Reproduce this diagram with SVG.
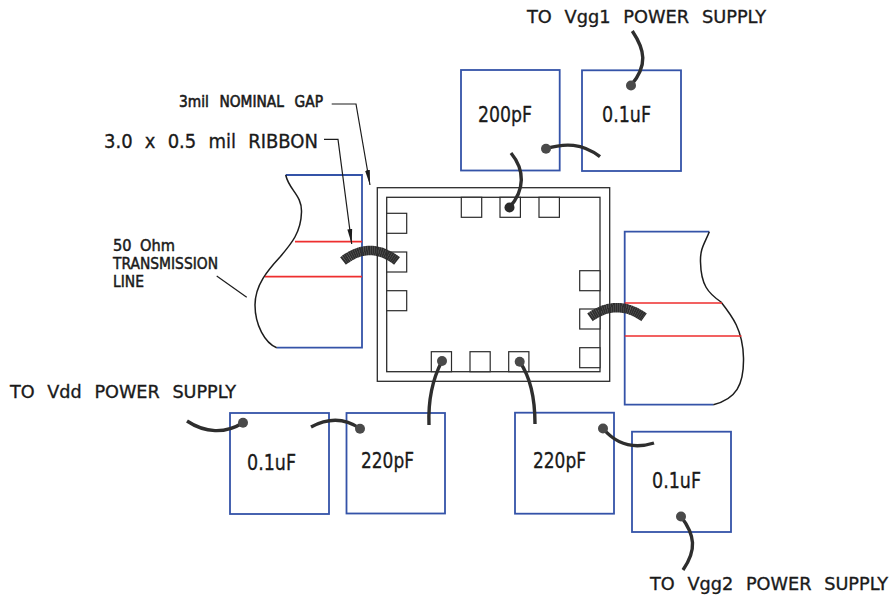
<svg xmlns="http://www.w3.org/2000/svg" width="889" height="596" viewBox="0 0 889 596">
<style>
.cap{fill:#fff;stroke:#3453a8;stroke-width:1.8}
.blue{fill:none;stroke:#3453a8;stroke-width:1.8}
.edge{fill:none;stroke:#1c1c1c;stroke-width:1.5}
.red{fill:none;stroke:#ee2e2e;stroke-width:1.7}
.pkg{fill:none;stroke:#2b2b2b;stroke-width:1.3}
.pad{fill:#fff;stroke:#2b2b2b;stroke-width:1.2}
.wire{fill:none;stroke:#2e2e2e;stroke-width:3.4}
.ribbon{fill:none;stroke:#2e2e2e;stroke-width:9.5;stroke-dasharray:2 .12}
.dot{fill:#4a4a4a}
.lead{fill:none;stroke:#1c1c1c;stroke-width:1.2}
text{font-family:"DejaVu Sans","Liberation Sans",sans-serif;fill:#1a1a1a;stroke:#1a1a1a;stroke-width:.35}
</style>
<defs>
<marker id="tip" markerUnits="userSpaceOnUse" markerWidth="16" markerHeight="8" refX="15" refY="4" orient="auto"><path d="M0 1.6L15 4L0 6.4Z" fill="#1c1c1c"/></marker>
</defs>
<rect width="889" height="596" fill="#fff"/>
<g id="line-left">
<path class="blue" d="M285.7 175H362V347.7H276.7"/>
<path class="edge" d="M285.7 175C289 190 302 195 301.5 212C301 232 292 243 280 257C268 270 255 285 255 305C255 325 265 343 276.7 347.7"/>
<path class="red" d="M295 241.7H362M265 276.7H362"/>
</g>
<g id="line-right">
<path class="blue" d="M709.3 231.7H624.7V404.7H713.3"/>
<path class="edge" d="M709.3 231.7C705 243 700 248 700.5 262C701 285 708 293 721 302C732 316 743 330 743.5 358C744 385 736 399 713.3 404.7"/>
<path class="red" d="M624.7 303H722M624.7 336H741.5"/>
</g>
<g id="package">
<rect class="pkg" x="377.3" y="187.7" width="232.4" height="193.6"/>
<rect class="pkg" x="386.7" y="197.3" width="213.3" height="174.4"/>
<g id="pads">
<rect class="pad" x="386.7" y="213.3" width="20" height="20"/>
<rect class="pad" x="386.7" y="252" width="20" height="20"/>
<rect class="pad" x="386.7" y="290.7" width="20" height="20"/>
<rect class="pad" x="461.3" y="197.3" width="20.4" height="20"/>
<rect class="pad" x="500" y="197.3" width="20.4" height="20"/>
<rect class="pad" x="539" y="197.3" width="20.4" height="20"/>
<rect class="pad" x="579.7" y="270.7" width="20.3" height="20"/>
<rect class="pad" x="579.7" y="309" width="20.3" height="20"/>
<rect class="pad" x="579.7" y="347.7" width="20.3" height="20"/>
<rect class="pad" x="431.3" y="351.7" width="20.2" height="20"/>
<rect class="pad" x="470" y="351.7" width="20.2" height="20"/>
<rect class="pad" x="508.7" y="351.7" width="20.2" height="20"/>
</g>
</g>
<g id="cap-200pF"><rect class="cap" x="461" y="70" width="98.7" height="100.5"/><text x="478" y="122" font-size="22" textLength="54" lengthAdjust="spacingAndGlyphs">200pF</text></g>
<g id="cap-vgg1"><rect class="cap" x="582" y="70.3" width="99" height="100.7"/><text x="602" y="122" font-size="22" textLength="49" lengthAdjust="spacingAndGlyphs">0.1uF</text></g>
<g id="cap-vdd"><rect class="cap" x="230" y="413" width="99" height="101"/><text x="247" y="469.5" font-size="22" textLength="49" lengthAdjust="spacingAndGlyphs">0.1uF</text></g>
<g id="cap-220pF-left"><rect class="cap" x="346.5" y="413" width="98.5" height="100.5"/><text x="361" y="468" font-size="22" textLength="53" lengthAdjust="spacingAndGlyphs">220pF</text></g>
<g id="cap-220pF-right"><rect class="cap" x="515" y="412.7" width="99" height="101"/><text x="533" y="468" font-size="22" textLength="53" lengthAdjust="spacingAndGlyphs">220pF</text></g>
<g id="cap-vgg2"><rect class="cap" x="632" y="431.7" width="99" height="100.3"/><text x="652" y="488" font-size="22" textLength="49" lengthAdjust="spacingAndGlyphs">0.1uF</text></g>
<g id="labels">
<text x="527" y="23" font-size="17.5" textLength="239" lengthAdjust="spacingAndGlyphs" word-spacing="7">TO Vgg1 POWER SUPPLY</text>
<text x="179" y="107.3" font-size="15.5" textLength="144" lengthAdjust="spacingAndGlyphs" word-spacing="7" style="stroke-width:.6">3mil NOMINAL GAP</text>
<text x="104" y="147.7" font-size="19.5" textLength="214" lengthAdjust="spacingAndGlyphs" word-spacing="7">3.0 x 0.5 mil RIBBON</text>
<text x="113" y="250.5" font-size="15.5" textLength="62" lengthAdjust="spacingAndGlyphs" word-spacing="4" style="stroke-width:.5">50 Ohm</text>
<text x="113" y="268.6" font-size="15.5" textLength="105" lengthAdjust="spacingAndGlyphs" style="stroke-width:.5">TRANSMISSION</text>
<text x="113" y="286.7" font-size="15.5" textLength="31" lengthAdjust="spacingAndGlyphs" style="stroke-width:.5">LINE</text>
<text x="10" y="398.3" font-size="17.5" textLength="226" lengthAdjust="spacingAndGlyphs" word-spacing="7">TO Vdd POWER SUPPLY</text>
<text x="650" y="590" font-size="17.5" textLength="238" lengthAdjust="spacingAndGlyphs" word-spacing="7">TO Vgg2 POWER SUPPLY</text>
</g>
<g id="connectors">
<path class="lead" d="M331.7 104H356L370 185" marker-end="url(#tip)"/>
<path class="lead" d="M324 139.3H338L351.7 244" marker-end="url(#tip)"/>
<path class="lead" d="M216.7 276L246.7 297.3"/>
<path class="ribbon" d="M343 261Q370 240 397 261"/>
<path class="ribbon" d="M590 317.3Q617 298 644 317.3"/>
<path class="wire" d="M632.3 31C645 50 648 65 631 85.5"/>
<path class="wire" d="M600 156.7C582 143 565 143 546 148.7"/>
<path class="wire" d="M511 153C525 170 525 190 509.5 207.5"/>
<path class="wire" d="M187 421C205 433 225 434 243 422.7"/>
<path class="wire" d="M311 427C328 418 345 418 360 428.7"/>
<path class="wire" d="M429 425C428 400 432 380 442 361"/>
<path class="wire" d="M535 424C535 400 531 378 519.7 361.7"/>
<path class="wire" d="M603 428.5C617 445 635 449 654 443"/>
<path class="wire" d="M683 570C697 550 695 535 681 516.5"/>
<circle class="dot" cx="631" cy="85.5" r="5"/>
<circle class="dot" cx="546" cy="148.7" r="5"/>
<circle class="dot" cx="509.5" cy="207.5" r="5" style="fill:#2a2a2a"/>
<circle class="dot" cx="243" cy="422.7" r="5"/>
<circle class="dot" cx="360" cy="428.7" r="5"/>
<circle class="dot" cx="442" cy="361" r="5"/>
<circle class="dot" cx="519.7" cy="361.7" r="5"/>
<circle class="dot" cx="603" cy="428.5" r="5"/>
<circle class="dot" cx="681" cy="516.5" r="5"/>
</g>
</svg>
